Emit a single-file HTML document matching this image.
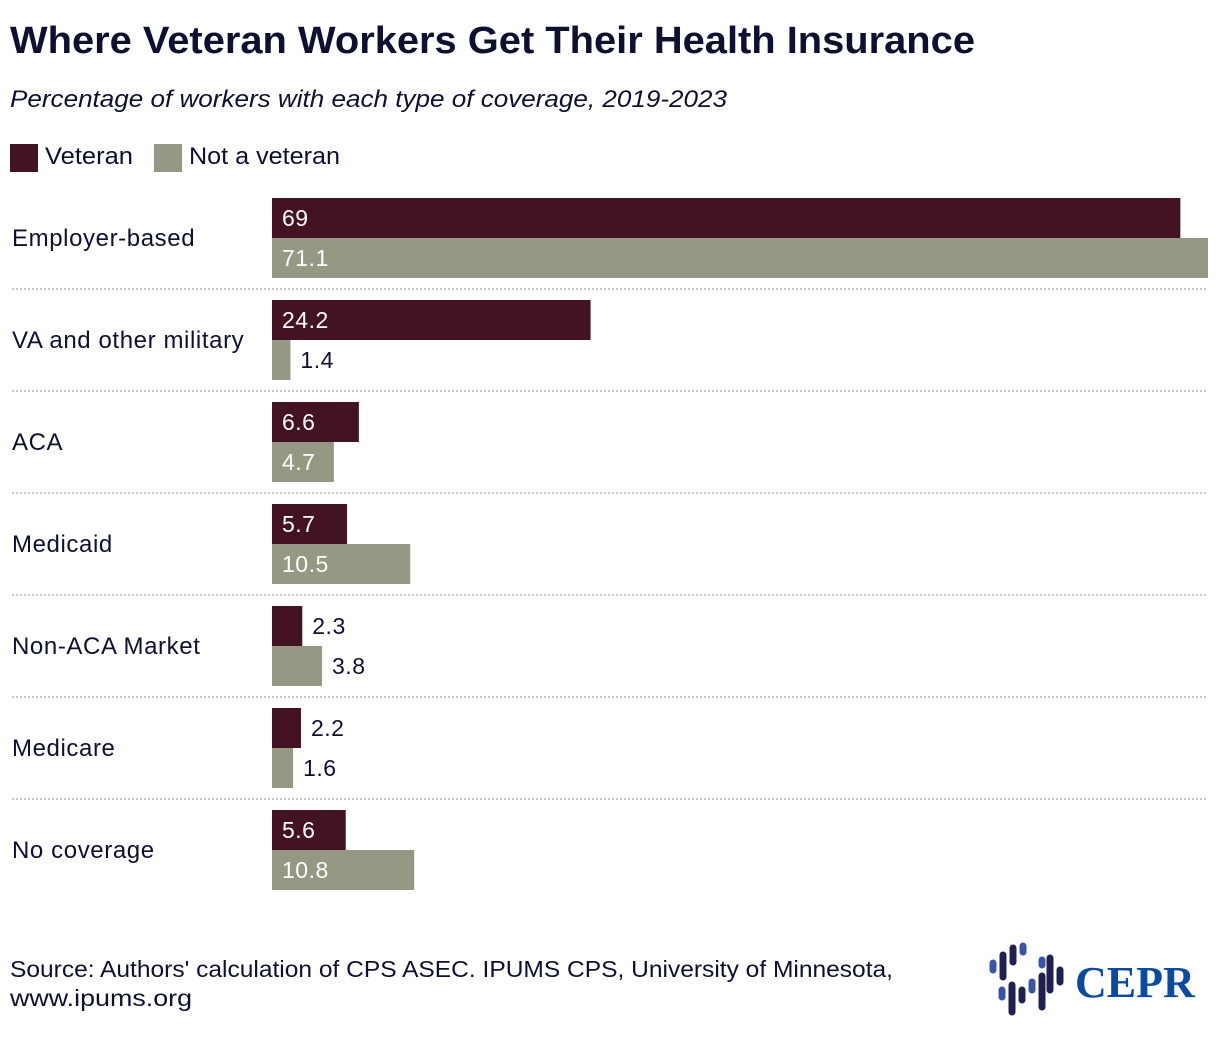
<!DOCTYPE html>
<html><head><meta charset="utf-8"><style>
body{margin:0;background:#fff;}
svg{display:block;font-family:"Liberation Sans",sans-serif;}
</style></head><body>
<svg id="chart" width="1220" height="1048" viewBox="0 0 1220 1048">
<text x="10" y="53" font-size="38" font-weight="bold" fill="#0d1030" textLength="965" lengthAdjust="spacingAndGlyphs">Where Veteran Workers Get Their Health Insurance</text>
<text x="10" y="107" font-size="24" font-style="italic" fill="#0d1030" textLength="717" lengthAdjust="spacingAndGlyphs">Percentage of workers with each type of coverage, 2019-2023</text>
<g>
<rect x="10" y="144" width="28" height="28" fill="#431223"/>
<text x="45" y="164" font-size="24" fill="#0d1030" textLength="88" lengthAdjust="spacingAndGlyphs">Veteran</text>
<rect x="154" y="144" width="28" height="28" fill="#979883"/>
<text x="189" y="164" font-size="24" fill="#0d1030" textLength="151" lengthAdjust="spacingAndGlyphs">Not a veteran</text>
</g>
<g id="bars"></g>
<text x="10" y="977" font-size="23" fill="#0d1030" textLength="883" lengthAdjust="spacingAndGlyphs">Source: Authors' calculation of CPS ASEC. IPUMS CPS, University of Minnesota,</text>
<text x="10" y="1006" font-size="23" fill="#0d1030" textLength="182" lengthAdjust="spacingAndGlyphs">www.ipums.org</text>
<g>
<g stroke-linecap="round" stroke-width="7">
<line x1="993" y1="963" x2="993" y2="970" stroke="#3a55a8"/>
<line x1="1003" y1="955" x2="1003" y2="977" stroke="#222050"/>
<line x1="1013" y1="948" x2="1013" y2="962" stroke="#222050"/>
<line x1="1023" y1="946" x2="1023" y2="952" stroke="#3a55a8"/>
<line x1="1002" y1="990" x2="1002" y2="997" stroke="#3a55a8"/>
<line x1="1012" y1="985" x2="1012" y2="1012" stroke="#222050"/>
<line x1="1022" y1="990" x2="1022" y2="1000" stroke="#222050"/>
<line x1="1032" y1="982" x2="1032" y2="990" stroke="#3a55a8"/>
<line x1="1042" y1="976" x2="1042" y2="1007" stroke="#222050"/>
<line x1="1042" y1="960" x2="1042" y2="965" stroke="#3a55a8"/>
<line x1="1050" y1="958" x2="1050" y2="990" stroke="#222050"/>
<line x1="1060" y1="970" x2="1060" y2="982" stroke="#222050"/>
</g>
<text x="1075" y="997" font-family="Liberation Serif,serif" font-weight="bold" font-size="44" fill="#0a4aa0">CEPR</text>
</g>
</svg>
<script>
const categories = ["Employer-based","VA and other military","ACA","Medicaid","Non-ACA Market","Medicare","No coverage"];
const veteranValues = [69,24.2,6.6,5.7,2.3,2.2,5.6];
const nonVeteranValues = [71.1,1.4,4.7,10.5,3.8,1.6,10.8];
const valueLabelsVet = ["69","24.2","6.6","5.7","2.3","2.2","5.6"];
const valueLabelsNon = ["71.1","1.4","4.7","10.5","3.8","1.6","10.8"];

const NS="http://www.w3.org/2000/svg";
const g=document.getElementById('bars');
const x0=272, scale=(1208-272)/71.1;
const xLen=v=>v*scale;
const rowY=i=>198+i*102;
function mk(tag,attrs){const e=document.createElementNS(NS,tag);for(const k in attrs)e.setAttribute(k,attrs[k]);return e;}
categories.forEach((c,i)=>{
  const y=rowY(i);
  const lbl=mk('text',{x:12,y:y+48,'font-size':24,'letter-spacing':0.6,fill:'#0d1030'});
  lbl.textContent=c;
  
  
  g.appendChild(lbl);
  [[veteranValues[i],valueLabelsVet[i],'#431223',0,'bar-veteran'],[nonVeteranValues[i],valueLabelsNon[i],'#979883',40,'bar-not-veteran']].forEach(([v,t,col,off,nm])=>{
    const w=xLen(v);
    const r=mk('rect',{x:x0,y:y+off,width:w,height:40,fill:col});
    
    
    g.appendChild(r);
    const inside=w>55;
    const tx=mk('text',{x:inside?x0+10:x0+w+10,y:y+off+28,'font-size':23,'letter-spacing':0.5,fill:inside?'#fff':'#0d1030'});
    tx.textContent=t;
    
    
    g.appendChild(tx);
  });
  if(i<categories.length-1){
    const ln=mk('line',{x1:12,x2:1208,y1:y+91,y2:y+91,stroke:'#c8c8c8','stroke-width':2,'stroke-dasharray':'2 2'});
    
    
    g.appendChild(ln);
  }
});
</script>
</body></html>
